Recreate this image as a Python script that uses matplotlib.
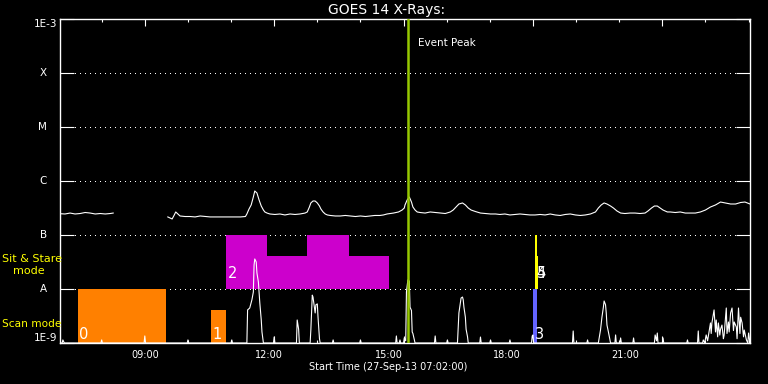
import numpy as np
import matplotlib
matplotlib.use("Agg")
import matplotlib.pyplot as plt
import matplotlib.transforms as mtransforms
from matplotlib.ticker import FixedLocator, NullLocator

# ---------------- data ----------------
long_times = ["07:02", "07:09", "07:16", "07:23", "07:30", "07:37", "07:44", "07:51", "07:58", "08:05",
              "08:12", "08:16", "08:17",
              "09:32", "09:35", "09:38", "09:41", "09:43", "09:46", "09:49", "09:56", "10:03", "10:10",
              "10:17", "10:24", "10:31", "10:45", "10:59", "11:13", "11:20", "11:22", "11:25", "11:28",
              "11:31", "11:33", "11:36", "11:39", "11:42", "11:45", "11:47", "11:50", "11:54", "12:01",
              "12:08", "12:15", "12:22", "12:29", "12:36", "12:43", "12:46", "12:49", "12:51", "12:54",
              "12:57", "13:00", "13:03", "13:05", "13:08", "13:11", "13:14", "13:18", "13:25", "13:32",
              "13:39", "13:46", "13:53", "14:00", "14:07", "14:13", "14:20", "14:27", "14:32", "14:37",
              "14:46", "14:53", "14:58", "15:01", "15:02", "15:05", "15:08", "15:11", "15:13", "15:16",
              "15:19", "15:23", "15:30", "15:37", "15:44", "15:51", "15:58", "16:05", "16:09", "16:13",
              "16:17", "16:22", "16:26", "16:30", "16:34", "16:40", "16:47", "16:54", "17:01", "17:08",
              "17:14", "17:21", "17:28", "17:35", "17:42", "17:49", "17:56", "18:03", "18:10", "18:17",
              "18:24", "18:31", "18:38", "18:45", "18:52", "18:59", "19:06", "19:13", "19:20", "19:27",
              "19:31", "19:35", "19:39", "19:43", "19:48", "19:52", "19:57", "20:02", "20:08", "20:15",
              "20:22", "20:29", "20:36", "20:40", "20:45", "20:49", "20:53", "20:57", "21:01", "21:07",
              "21:11", "21:18", "21:25", "21:32", "21:39", "21:46", "21:53", "22:00", "22:07", "22:14",
              "22:21", "22:28", "22:35", "22:42", "22:49", "22:55", "23:02"]
long_flux = [2.48e-7, 2.45e-7, 2.55e-7, 2.45e-7, 2.50e-7, 2.61e-7, 2.55e-7, 2.45e-7, 2.50e-7, 2.45e-7,
             2.50e-7, 2.55e-7, np.nan,
             2.16e-7, 2.07e-7, 1.98e-7, 2.35e-7, 2.67e-7, 2.45e-7, 2.25e-7, 2.20e-7, 2.20e-7, 2.16e-7,
             2.25e-7, 2.20e-7, 2.16e-7, 2.16e-7, 2.16e-7, 2.16e-7, 2.20e-7, 2.45e-7, 3.03e-7, 3.60e-7,
             5.06e-7, 6.53e-7, 6.00e-7, 4.45e-7, 3.44e-7, 2.90e-7, 2.67e-7, 2.55e-7, 2.45e-7, 2.40e-7,
             2.45e-7, 2.35e-7, 2.45e-7, 2.40e-7, 2.45e-7, 2.55e-7, 2.67e-7, 3.30e-7, 3.92e-7, 4.26e-7,
             4.26e-7, 3.92e-7, 3.44e-7, 3.03e-7, 2.67e-7, 2.45e-7, 2.35e-7, 2.30e-7, 2.25e-7, 2.25e-7,
             2.30e-7, 2.25e-7, 2.20e-7, 2.25e-7, 2.20e-7, 2.25e-7, 2.30e-7, 2.30e-7, 2.35e-7, 2.45e-7,
             2.55e-7, 2.67e-7, 2.90e-7, 3.16e-7, 3.60e-7, 4.45e-7, 5.06e-7, 4.08e-7, 3.30e-7, 2.90e-7,
             2.67e-7, 2.61e-7, 2.55e-7, 2.67e-7, 2.61e-7, 2.55e-7, 2.50e-7, 2.67e-7, 2.90e-7, 3.30e-7,
             3.75e-7, 3.92e-7, 3.60e-7, 3.16e-7, 2.90e-7, 2.72e-7, 2.55e-7, 2.50e-7, 2.45e-7, 2.45e-7,
             2.40e-7, 2.45e-7, 2.35e-7, 2.40e-7, 2.45e-7, 2.40e-7, 2.35e-7, 2.35e-7, 2.40e-7, 2.35e-7,
             2.45e-7, 2.35e-7, 2.30e-7, 2.40e-7, 2.45e-7, 2.35e-7, 2.30e-7, 2.35e-7, 2.45e-7, 2.67e-7,
             3.16e-7, 3.60e-7, 3.92e-7, 3.75e-7, 3.44e-7, 3.16e-7, 2.78e-7, 2.55e-7, 2.50e-7, 2.55e-7,
             2.55e-7, 2.50e-7, 2.55e-7, 2.78e-7, 3.16e-7, 3.44e-7, 3.44e-7, 3.16e-7, 2.90e-7, 2.67e-7,
             2.67e-7, 2.61e-7, 2.67e-7, 2.55e-7, 2.55e-7, 2.55e-7, 2.67e-7, 2.90e-7, 3.30e-7, 3.60e-7,
             4.08e-7, 3.92e-7, 3.75e-7, 3.75e-7, 4.00e-7, 4.08e-7, 3.75e-7]

short_times = ["07:02", "07:05", "07:06", "07:08",
               "07:59", "08:00", "08:01", "08:59", "09:00", "09:01", "09:59", "10:00", "10:01",
               "11:00", "11:01", "11:02",
               "11:22", "11:23", "11:26", "11:29", "11:31", "11:32", "11:33", "11:35", "11:36", "11:38",
               "11:40", "11:42", "11:43", "11:45",
               "11:59", "12:00", "12:01", "12:31", "12:32", "12:34", "12:35",
               "12:50", "12:51", "12:53", "12:54", "12:56", "12:57", "12:58", "13:00", "13:01", "13:03", "13:04",
               "13:21", "13:22", "13:23", "13:59", "14:00", "14:01",
               "14:49", "14:50", "14:51", "14:54", "14:55", "14:56",
               "15:00", "15:01", "15:03", "15:04", "15:06", "15:08", "15:09", "15:11", "15:12", "15:13",
               "15:15", "15:16",
               "15:43", "15:44", "15:45", "16:00", "16:01", "16:02",
               "16:15", "16:16", "16:17", "16:19", "16:20", "16:22", "16:23", "16:24", "16:26", "16:27",
               "16:29", "16:30",
               "16:46", "16:47", "16:48", "17:00", "17:01", "17:02", "17:27", "17:28", "17:29",
               "17:58", "17:59", "18:00", "18:01", "18:55", "18:56", "18:57", "19:15", "19:16", "19:17",
               "19:31", "19:34", "19:36", "19:38", "19:39", "19:41", "19:42", "19:43", "19:45", "19:48",
               "19:54", "19:55", "19:56", "20:01", "20:02", "20:03", "20:19", "20:20", "20:21",
               "20:49", "20:50", "20:52", "20:53", "20:54", "21:00", "21:01", "21:02",
               "21:34", "21:35", "21:36", "21:49", "21:50", "21:51",
               "21:56", "21:57", "21:59", "22:01", "22:03", "22:07", "22:08", "22:09", "22:12", "22:14",
               "22:15", "22:17", "22:18", "22:20", "22:21", "22:23", "22:25", "22:26", "22:29", "22:30",
               "22:32", "22:33", "22:35", "22:37", "22:39", "22:40", "22:43", "22:44", "22:46", "22:48",
               "22:49", "22:51", "22:53", "22:54", "22:57", "22:59", "23:00", "23:02"]
short_flux = [1.0e-9, 1.0e-9, 1.14e-9, 1.0e-9,
              1.0e-9, 1.14e-9, 1.0e-9, 1.0e-9, 1.35e-9, 1.0e-9, 1.0e-9, 1.14e-9, 1.0e-9,
              1.0e-9, 1.14e-9, 1.0e-9,
              1.0e-9, 4.1e-9, 4.45e-9, 6.3e-9, 8.8e-9, 2.78e-8, 3.6e-8, 3.16e-8, 1.98e-8, 1.35e-8,
              5.5e-9, 2.67e-9, 1.6e-9, 1.0e-9,
              1.0e-9, 1.29e-9, 1.0e-9, 1.0e-9, 2.67e-9, 1.8e-9, 1.0e-9,
              1.0e-9, 1.74e-9, 7.7e-9, 7.1e-9, 4.6e-9, 3.6e-9, 5.1e-9, 5.3e-9, 3.0e-9, 1.2e-9, 1.0e-9,
              1.0e-9, 1.14e-9, 1.0e-9, 1.0e-9, 1.14e-9, 1.0e-9,
              1.0e-9, 1.35e-9, 1.0e-9, 1.0e-9, 1.14e-9, 1.0e-9,
              1.0e-9, 1.24e-9, 1.1e-9, 8.8e-9, 1.47e-8, 1.4e-8, 4.6e-9, 4.0e-9, 1.6e-9, 1.5e-9,
              1.14e-9, 1.0e-9,
              1.0e-9, 1.35e-9, 1.0e-9, 1.0e-9, 1.14e-9, 1.0e-9,
              1.0e-9, 2.0e-9, 3.6e-9, 5.5e-9, 6.8e-9, 7.1e-9, 6.3e-9, 4.6e-9, 3.0e-9, 1.8e-9,
              1.3e-9, 1.0e-9,
              1.0e-9, 1.29e-9, 1.0e-9, 1.0e-9, 1.14e-9, 1.0e-9, 1.0e-9, 1.14e-9, 1.0e-9,
              1.0e-9, 1.35e-9, 1.41e-9, 1.0e-9, 1.0e-9, 1.67e-9, 1.0e-9, 1.0e-9, 1.14e-9, 1.0e-9,
              1.0e-9, 1.74e-9, 3.0e-9, 4.6e-9, 6.0e-9, 5.1e-9, 3.6e-9, 2.15e-9, 1.6e-9, 1.0e-9,
              1.0e-9, 1.41e-9, 1.0e-9, 1.0e-9, 1.24e-9, 1.0e-9, 1.0e-9, 1.24e-9, 1.0e-9,
              1.0e-9, 1.41e-9, 1.1e-9, 1.53e-9, 1.0e-9, 1.0e-9, 1.24e-9, 1.0e-9,
              1.0e-9, 1.14e-9, 1.0e-9, 1.0e-9, 1.67e-9, 1.0e-9,
              1.0e-9, 1.14e-9, 1.0e-9, 1.41e-9, 1.1e-9, 2.35e-9, 1.5e-9, 2.35e-9, 4.1e-9, 1.6e-9,
              2.67e-9, 1.3e-9, 2.35e-9, 1.4e-9, 1.8e-9, 2.15e-9, 1.2e-9, 1.4e-9, 4.45e-9, 1.5e-9,
              2.45e-9, 1.6e-9, 3.6e-9, 4.45e-9, 1.7e-9, 2.45e-9, 1.98e-9, 1.2e-9, 4.45e-9, 1.5e-9,
              3.0e-9, 2.35e-9, 1.3e-9, 1.74e-9, 1.14e-9, 1.0e-9, 1.53e-9, 1.0e-9]

level_values = [1e-9, 1e-8, 1e-7, 1e-6, 1e-5, 1e-4, 1e-3]
level_labels = ["1E-9", "A", "B", "C", "M", "X", "1E-3"]

obs_ids = ["0", "1", "2", "2", "2", "2", "3", "4", "5"]
obs_start = ["07:27", "10:32", "10:53", "11:50", "12:46", "13:44", "18:00", "18:03", "18:03"]
obs_end = ["09:30", "10:53", "11:50", "12:46", "13:44", "14:40", "18:05", "18:07", "18:06"]
obs_bottom = [1e-9, 1e-9, 1e-8, 1e-8, 1e-8, 1e-8, 1e-9, 1e-8, 1e-8]
obs_top = [1e-8, 4.1e-9, 1e-7, 4.08e-8, 1e-7, 4.08e-8, 1e-8, 4.08e-8, 1e-7]

event_peak_time = "15:06"
x_start, x_end = "07:02", "23:02"
major_tick_times = ["09:00", "12:00", "15:00", "18:00", "21:00"]
minor_tick_times = ["08:00", "10:00", "11:00", "13:00", "14:00", "16:00", "17:00",
                    "19:00", "20:00", "22:00", "23:00"]
tick_label_text = ["09:00", "12:00", "15:00", "18:00", "21:00"]
tick_label_at = ["09:00", "11:53", "14:39", "17:24", "20:08"]

# ---------------- style ----------------
box_colors = {"0": "#ff8000", "1": "#ff8000", "2": "#cc00cc", "3": "#6464ff",
              "4": "#ffff00", "5": "#ffff00"}
green = "#96c800"
W, H = 768, 384


def hrs(s):
    h, m = s.split(":")
    return int(h) + int(m) / 60.0


fig = plt.figure(figsize=(W / 100, H / 100), dpi=100, facecolor="black")
ax = fig.add_axes([60 / W, 41 / H, 690 / W, 324 / H], facecolor="black")
ax.set_yscale("log")
ax.set_xlim(hrs(x_start), hrs(x_end))
ax.set_ylim(level_values[0], level_values[-1])

for s in ax.spines.values():
    s.set_color("white")
    s.set_linewidth(1.0)

# grid
for v in level_values[1:-1]:
    ax.axhline(v, color="white", lw=0.6, linestyle=(0, (1.2, 6)), zorder=1, antialiased=False)

# observation boxes
seen = set()
for oid, st, en, b, t in zip(obs_ids, obs_start, obs_end, obs_bottom, obs_top):
    x0 = hrs(st)
    ax.bar(x0, t - b, width=hrs(en) - x0, bottom=b, align="edge",
           color=box_colors[oid], edgecolor="none", linewidth=0, zorder=2)
    if oid not in seen:
        seen.add(oid)
        dy = 4 if b <= 1e-9 else 11
        ax.annotate(oid, xy=(x0, b), xytext=(1.5, dy), textcoords="offset pixels",
                    color="white", fontsize=10.5, ha="left", va="baseline", zorder=6)

# GOES curves
ax.plot([hrs(t) for t in long_times], long_flux, color="white", lw=0.8, zorder=3)
ax.plot([hrs(t) for t in short_times], short_flux, color="white", lw=0.8, zorder=3)

# event peak
ax.axvline(hrs(event_peak_time), color=green, lw=1.8, zorder=5)
ax.text(hrs(event_peak_time) + 0.23, 3.6e-4, "Event Peak", color="white",
        fontsize=7.5, ha="left", va="center", zorder=6)

# ticks
ax.xaxis.set_major_locator(FixedLocator([hrs(t) for t in major_tick_times]))
ax.xaxis.set_minor_locator(FixedLocator([hrs(t) for t in minor_tick_times]))
ax.yaxis.set_major_locator(FixedLocator(level_values))
ax.yaxis.set_minor_locator(NullLocator())
ax.tick_params(axis="x", which="major", direction="in", length=5, width=0.8,
               color="white", top=True, bottom=True, labelbottom=False)
ax.tick_params(axis="x", which="minor", direction="in", length=2.5, width=0.8,
               color="white", top=True, bottom=True)
ax.tick_params(axis="y", which="major", direction="in", length=10.2, width=0.8,
               color="white", left=True, right=True, labelleft=False)

# x tick labels (placed where the original plot drew them)
tr_x = mtransforms.blended_transform_factory(ax.transData, ax.transAxes)
for txt, at in zip(tick_label_text, tick_label_at):
    ax.text(hrs(at), -12 / 324, txt, transform=tr_x, color="white", fontsize=7,
            ha="center", va="center")

# y labels
tr_y = mtransforms.blended_transform_factory(ax.transAxes, ax.transData)
for v, lab in zip(level_values, level_labels):
    if lab.startswith("1E"):
        va = "bottom" if v == level_values[0] else "top"
        ax.text(-3 / 690, v, lab, transform=tr_y, color="white", fontsize=7.5,
                ha="right", va=va)
    else:
        ax.text(-13 / 690, v, lab, transform=tr_y, color="white", fontsize=7.5,
                ha="right", va="center")

# mode labels
fig.text(2 / W, 1 - 259 / H, "Sit & Stare", color="#ffff00", fontsize=8.0, ha="left", va="center")
fig.text(13 / W, 1 - 271 / H, "mode", color="#ffff00", fontsize=8.0, ha="left", va="center")
fig.text(2 / W, 1 - 324 / H, "Scan mode", color="#ffff00", fontsize=7.6, ha="left", va="center")

# title and x label
fig.text(387 / W, 1 - 10 / H, "GOES 14 X-Rays:", color="white", fontsize=10, ha="center", va="center")
fig.text(388 / W, 1 - 367 / H, "Start Time (27-Sep-13 07:02:00)", color="white", fontsize=7,
         ha="center", va="center")

fig.savefig("out.png", dpi=100, facecolor="black")
